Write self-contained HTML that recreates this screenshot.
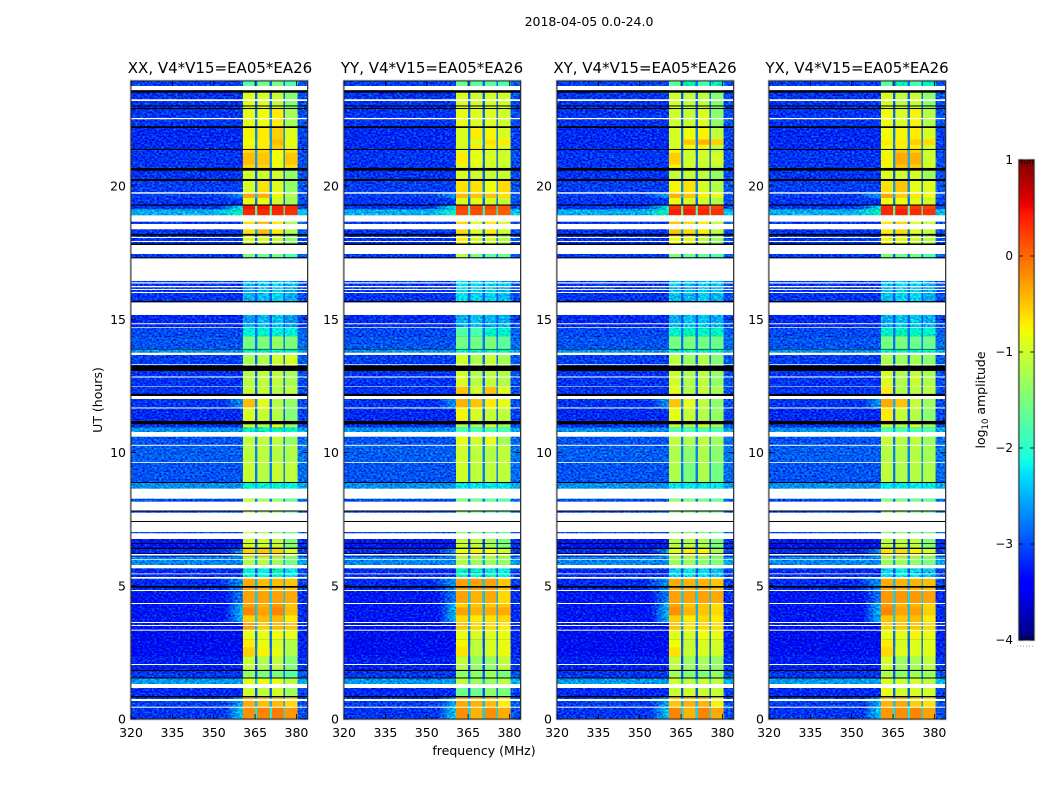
<!DOCTYPE html>
<html lang="en">
<head>
<meta charset="utf-8">
<title>2018-04-05 spectrogram</title>
<style>
html,body{margin:0;padding:0;background:#fff}
svg{display:block}
text{font-family:"DejaVu Sans","Liberation Sans",sans-serif;fill:#000}
</style>
</head>
<body>
<svg id="chart" xmlns="http://www.w3.org/2000/svg" width="1050" height="800" viewBox="0 0 1050 800">
  <defs>
    <filter id="speckle" x="0" y="0" width="1" height="1" color-interpolation-filters="sRGB">
      <feTurbulence type="fractalNoise" baseFrequency="0.42 0.58" numOctaves="1" seed="7" result="t"/>
      <feColorMatrix in="t" type="matrix" values="0 0 0 0 0  1 0 0 0 0  0 1 0 0 0  0 0 0 0 1" result="n"/>
      <feComposite in="SourceGraphic" in2="n" operator="arithmetic" k1="0" k2="1" k3="1.2" k4="-0.62"/>
    </filter>
    <linearGradient id="colorbar-gradient" x1="0" y1="1" x2="0" y2="0"></linearGradient>
  </defs>
  <text x="589" y="26" font-size="12.5" text-anchor="middle">2018-04-05 0.0-24.0</text>
  <g id="panels"></g>
  <text x="484" y="755" font-size="12.5" text-anchor="middle">frequency (MHz)</text>
  <text transform="translate(102 400) rotate(-90)" font-size="12.5" text-anchor="middle">UT (hours)</text>
  <g id="colorbar"></g>
  <text transform="translate(985 400) rotate(-90)" font-size="12.5" text-anchor="middle">log<tspan font-size="8.5" dy="3">10</tspan><tspan dy="-3"> amplitude</tspan></text>
</svg>
<script>
// ---- chart data (UT hours, MHz, log10 amplitude) ----
const panelTitles = ["XX, V4*V15=EA05*EA26", "YY, V4*V15=EA05*EA26", "XY, V4*V15=EA05*EA26", "YX, V4*V15=EA05*EA26"];
const xTickLabels = [320, 335, 350, 365, 380];
const yTickLabels = [0, 5, 10, 15, 20];
const colorTickLabels = [1, 0, -1, -2, -3, -4];
const spwLowMHz = [360.6, 365.8, 371.1, 375.8];
const spwHighMHz = [365.0, 370.3, 375.3, 380.4];
const rowEdgesUT = [0,.44,.82,1.17,1.55,1.85,2.35,3.0,3.36,3.65,4.35,4.85,5.3,5.67,6.1,6.45,6.77,8.28,8.9,9.65,10.3,10.65,10.97,11.2,11.7,12.23,12.52,13.3,13.78,13.92,14.4,14.74,15.7,17.33,17.88,18.25,18.95,19.18,19.34,19.6,19.8,20.3,20.7,21.43,22.28,22.97,23.81,24];
const backgroundLevels = [-3.1,-3.05,-3.15,-2.6,-3.1,-3.2,-3.3,-3.3,-3.25,-3.25,-3.25,-3.15,-3.15,-2.7,-3.15,-3.25,-3.0,-2.65,-2.95,-2.9,-2.95,-2.65,-3.1,-3.15,-3.1,-3.1,-3.1,-3.05,-2.65,-2.95,-3.0,-3.15,-3.1,-3.05,-3.1,-3.1,-2.5,-3.1,-3.1,-3.05,-3.05,-3.1,-3.1,-3.15,-3.1,-3.1,-3.05];
const wingRows = [0, 1, 9, 10, 11, 14, 24, 36, 37, 39];
const wingStartMHz = [354, 354, 354, 354, 352, 354, 354, 350, 352, 352];
const wingLevels = [-2.3, -2.5, -2.4, -2.7, -2.6, -2.6, -2.6, -1.9, -2.2, -2.6];
const xxLevels = [[-.2,-.15,-.1,-.25],[-.35,-.45,-.45,-.6],[-1,-1.1,-1,-1.3],[-.85,-.85,-.85,-1.1],[-1.35,-1.5,-1.5,-1.7],[-1.05,-1.2,-1.1,-1.45],[-.7,-.85,-.95,-1.15],[-.85,-.85,-.8,-.85],[-.3,-.55,-.45,-.5],[-.3,-.4,-.25,-.5],[-.3,-.3,-.3,-.35],[-.35,-.45,-.45,-.5],[-2.05,-2.1,-1.9,-2.2],[-1.2,-1.15,-1.3,-1.55],[-.55,-.5,-.55,-.95],[-1,-1,-1.05,-1.45],[-1,-1.2,-1.3,-1.6],[-2,-2,-2,-2.1],[-1.05,-1.15,-1.05,-1.1],[-1.1,-1.1,-1.15,-1.2],[-1.1,-1.1,-1.1,-1.35],[-1.9,-1.9,-1.9,-2],[-.95,-1.1,-.85,-1.25],[-.95,-1.05,-1.15,-1.45],[-.45,-.9,-1.15,-1.35],[-1.05,-1.05,-1.15,-1.1],[-1.15,-1.1,-1.1,-1.25],[-1.25,-1.2,-1,-.95],[-1.9,-1.9,-1.9,-1.9],[-1.55,-1.5,-1.35,-1.5],[-2.1,-2.05,-2.1,-2.1],[-2.6,-2.45,-2.4,-2.6],[-2.5,-2.4,-2.3,-2.5],[-1.5,-1.6,-1.5,-1.8],[-.95,-.95,-1.05,-1.4],[-.65,-.45,-.7,-1.2],[.35,.35,.35,.3],[.45,.45,.4,.35],[-.85,-.85,-1,-1.3],[-.35,-.4,-.75,-1.2],[-.95,-.65,-.9,-1.35],[-1,-1,-1,-1.35],[-.6,-.6,-.8,-.65],[-.75,-.7,-.55,-.9],[-.85,-.8,-.7,-1.25],[-.9,-.95,-1.05,-1.45],[-1.8,-1.55,-1.5,-1.8]];
const yyLevels = [[-.2,-.4,-.2,-.35],[-.35,-.4,-.45,-.7],[-1.6,-1.6,-1.4,-1.5],[-1.1,-1.3,-1.3,-1.1],[-1.4,-1.4,-1.3,-1.5],[-1.1,-1.35,-1.35,-1.1],[-.75,-1.1,-.95,-.85],[-.85,-.95,-.9,-.85],[-.5,-.6,-.6,-.7],[-.55,-.5,-.5,-.5],[-.3,-.4,-.35,-.6],[-.3,-.3,-.3,-.5],[-1.9,-2,-2,-2.1],[-1.2,-1.3,-1.3,-1.35],[-.8,-.75,-.8,-1],[-1.05,-1.1,-1.25,-1.5],[-1.4,-1.5,-1.6,-1.7],[-2.2,-2.2,-2.2,-2.2],[-1,-1.1,-1.1,-1.1],[-1,-1.1,-1.15,-1.1],[-.85,-1,-.85,-1.25],[-1.8,-1.8,-1.8,-1.8],[-1.2,-1.2,-.9,-1.3],[-.75,-.95,-1.05,-1.1],[-.4,-.5,-.7,-.85],[-.5,-.95,-.5,-.9],[-.95,-1.15,-1.1,-1.2],[-1,-1.2,-1.05,-1.25],[-1.9,-1.9,-1.9,-1.9],[-1.55,-1.55,-1.5,-1.7],[-1.75,-1.8,-2,-2],[-2.5,-2.4,-2.5,-2.5],[-2.25,-2.3,-2.3,-2.45],[-1.1,-1.5,-1.7,-1.6],[-.75,-.95,-.95,-1.2],[-.6,-.9,-.7,-1],[.15,.15,.1,.05],[.2,.2,.2,.1],[-.95,-.9,-1,-1.05],[-.45,-.5,-.5,-.65],[-.65,-.65,-.8,-.6],[-.95,-1,-1.05,-1.05],[-.95,-.9,-1,-1.05],[-.95,-.7,-.75,-.95],[-.85,-.9,-.9,-1],[-.95,-1,-.95,-1],[-1.6,-1.7,-1.7,-1.8]];
const xyLevels = [[-.15,-.4,-.15,-.35],[-.5,-.4,-.4,-.75],[-1.05,-1,-1.05,-1.05],[-.95,-1.1,-1,-1.1],[-1.3,-1.45,-1.5,-1.35],[-1.1,-1.3,-1.25,-1.35],[-.8,-1.05,-.95,-.95],[-.9,-.95,-.8,-.85],[-.5,-.65,-.6,-.65],[-.3,-.5,-.5,-.65],[-.3,-.3,-.3,-.35],[-.35,-.4,-.4,-.5],[-2.3,-2.2,-2.3,-2.4],[-1.3,-1.3,-1.4,-1.45],[-.9,-.7,-.75,-1.25],[-1.15,-1.15,-1.2,-1.5],[-1.3,-1.4,-1.5,-1.6],[-2.2,-2.2,-2.2,-2.2],[-1.2,-1.5,-1.2,-1.55],[-1.2,-1.4,-1.2,-1.4],[-1.1,-1.2,-1.1,-1.3],[-1.8,-1.8,-1.8,-1.8],[-1,-1.2,-.85,-1.25],[-.85,-1.05,-1.15,-1.35],[-.5,-.85,-1.1,-1.4],[-.85,-1.15,-1.05,-1.2],[-1,-1.2,-1.1,-1.35],[-1.1,-1.3,-1.15,-1.45],[-1.9,-1.9,-1.9,-1.9],[-1.55,-1.5,-1.55,-1.6],[-1.95,-1.9,-1.95,-1.95],[-2.5,-2.4,-2.4,-2.5],[-2.4,-2.45,-2.35,-2.45],[-1.5,-1.6,-1.6,-1.8],[-.8,-.8,-1.1,-1.3],[-.5,-.6,-.7,-1.1],[.4,.4,.35,.3],[.3,.3,.3,.2],[-.85,-.95,-1,-1.2],[-.4,-.5,-.75,-.85],[-.75,-.65,-.95,-1.15],[-1.05,-1.05,-1.1,-1.35],[-.75,-1,-1.05,-1.15],[-.95,-.8,-.75,-1.1],[-1,-1.05,-.9,-1.4],[-1,-1.1,-1.1,-1.45],[-1.7,-1.85,-1.8,-1.9]];
const yxLevels = [[-.25,-.2,-.15,-.3],[-.4,-.35,-.55,-.65],[-.85,-1,-.95,-1],[-.9,-1,-.95,-1.1],[-1.2,-1.4,-1.3,-1.3],[-1,-1.3,-1.25,-1.1],[-.7,-.95,-.9,-.9],[-.85,-.85,-.75,-.85],[-.55,-.5,-.5,-.6],[-.25,-.4,-.4,-.6],[-.25,-.25,-.25,-.3],[-.35,-.4,-.4,-.45],[-2.3,-2.15,-2.3,-2.4],[-1.3,-1.3,-1.4,-1.5],[-.65,-.6,-.75,-1],[-1.1,-1.1,-1.1,-1.45],[-1.4,-1.4,-1.5,-1.6],[-2.2,-2.2,-2.2,-2.2],[-1.1,-1.2,-1.15,-1.2],[-1.15,-1.2,-1.15,-1.25],[-1.05,-1.15,-1.1,-1.3],[-1.8,-1.8,-1.8,-1.8],[-1,-1.15,-.85,-1.25],[-.7,-1.05,-1.15,-1.4],[-.35,-.5,-1.05,-1.3],[-.7,-1.2,-1.1,-1.1],[-.95,-1.2,-1.05,-1.2],[-1.2,-1.3,-1.25,-1.4],[-1.9,-1.9,-1.9,-1.9],[-1.55,-1.5,-1.6,-1.6],[-1.95,-1.9,-1.95,-2],[-2.5,-2.4,-2.35,-2.5],[-2.4,-2.3,-2.3,-2.5],[-1.5,-1.6,-1.6,-1.8],[-.75,-.85,-1.05,-1.15],[-.7,-.6,-.9,-1.05],[.35,.4,.35,.3],[.35,.3,.25,.2],[-.8,-.8,-.9,-1],[-.35,-.55,-.7,-.8],[-.65,-.5,-.85,-.9],[-.9,-1,-.95,-1.3],[-.85,-.5,-.55,-1],[-.8,-.75,-.7,-.95],[-.8,-.95,-.75,-1.15],[-.95,-1.1,-1.05,-1.4],[-1.7,-1.85,-1.8,-1.9]];
const stripeStartUT = [2.35, 3.66, 3.9, 20.85, 21.6];
const stripeEndUT = [2.7, 3.9, 4.2, 21.3, 21.8];
const stripeXX = [[-.55,-.75,-.85,-1.2],[-.55,-.45,-.45,-.7],[-.15,-.3,-.15,-.45],[-.45,-.5,-.8,-.5],[-.8,-.7,-.45,-.85]];
const stripeYY = [[-.65,-1.1,-.95,-.85],[-.6,-.7,-.65,-.6],[-.3,-.4,-.35,-.35],[-.7,-.85,-.95,-1],[-.95,-.95,-.65,-.7]];
const stripeXY = [[-.65,-1.05,-.95,-1],[-.55,-.7,-.6,-.7],[-.2,-.4,-.5,-.6],[-.55,-1,-1,-.95],[-.95,-.5,-.4,-.55]];
const stripeYX = [[-.6,-.9,-.9,-.9],[-.5,-.5,-.45,-.7],[-.15,-.3,-.3,-.55],[-.75,-.35,-.4,-1],[-.7,-.7,-.55,-.6]];
const whiteStartUT = [.425,.677,1.166,2.031,3.322,3.499,3.612,4.326,4.815,5.278,5.444,5.669,5.993,6.151,6.772,7.035,7.449,7.836,8.288,9.638,10.278,10.62,11.681,12.038,12.497,12.847,13.317,13.694,14.71,14.849,15.199,16.026,16.139,16.24,16.383,16.478,17.493,17.945,18.095,18.422,18.709,19.762,22.561,23.249,23.652];
const whiteEndUT = [.463,.752,1.317,2.069,3.359,3.536,3.649,4.364,4.853,5.342,5.474,5.794,6.019,6.207,6.986,7.411,7.761,8.175,8.664,9.668,10.315,10.797,11.719,12.151,12.516,12.885,13.344,13.78,14.736,14.886,15.676,16.064,16.177,16.289,16.428,17.331,17.832,17.983,18.133,18.622,18.949,19.815,22.61,23.313,23.813];
const blackStartUT = [.816,1.524,1.806,4.94,6.207,6.395,6.584,7.411,7.806,8.878,11.087,12.151,13.092,13.9,15.676,17.331,17.832,18.182,19.314,20.239,20.628,21.406,22.233,22.945,23.042,23.561];
const blackEndUT = [.865,1.561,1.843,5.003,6.234,6.445,6.61,7.449,7.844,8.916,11.211,12.227,13.291,13.92,15.725,17.369,17.888,18.246,19.355,20.315,20.729,21.444,22.297,22.985,23.08,23.652];
const panelLevels = [xxLevels, yyLevels, xyLevels, yxLevels];
const panelStripes = [stripeXX, stripeYY, stripeXY, stripeYX];

// ---- layout ----
const panelLefts = [131, 344, 557, 769];
const titleCenters = [220, 432, 645, 857];
const panelWidth = 176.5, plotTop = 81, plotBottom = 719;
const xMin = 320, xMax = 384, yMin = 0, yMax = 23.94;
const bandTimeFactor = 0.9975; // band times above were read on a 24 h ruler; axis tops out at 23.94 h
const cbLeft = 1019, cbRight = 1034, cbTop = 160, cbBottom = 640, cMin = -4, cMax = 1;
const NS = 'http://www.w3.org/2000/svg';

// ---- scales ----
function xScale(left, mhz) { return left + (mhz - xMin) / (xMax - xMin) * panelWidth; }
function yScale(ut) { return plotBottom - (ut - yMin) / (yMax - yMin) * (plotBottom - plotTop); }
function bandY(ut) { return yScale(ut * bandTimeFactor); }
function cScale(v) { return cbBottom - (v - cMin) / (cMax - cMin) * (cbBottom - cbTop); }
function lerpStops(stops, t) {
  for (let i = 1; i < stops.length; i++) {
    if (t <= stops[i][0]) {
      const a = stops[i - 1], b = stops[i];
      return a[1] + (b[1] - a[1]) * (t - a[0]) / (b[0] - a[0]);
    }
  }
  return stops[stops.length - 1][1];
}
const jetR = [[0,0],[.35,0],[.66,1],[.89,1],[1,.5]];
const jetG = [[0,0],[.125,0],[.375,1],[.64,1],[.91,0],[1,0]];
const jetB = [[0,.5],[.11,1],[.34,1],[.65,0],[1,0]];
function jet(v) {
  const t = Math.max(0, Math.min(1, (v - cMin) / (cMax - cMin)));
  const c = s => Math.round(255 * lerpStops(s, t));
  return 'rgb(' + c(jetR) + ',' + c(jetG) + ',' + c(jetB) + ')';
}
function make(tag, attrs, parent) {
  const e = document.createElementNS(NS, tag);
  for (const k in attrs) e.setAttribute(k, attrs[k]);
  parent.appendChild(e);
  return e;
}
function minusLabel(v) { return v < 0 ? '\u2212' + Math.abs(v) : String(v); }

const defs = document.querySelector('defs');
const panelsRoot = document.getElementById('panels');

// wing gradients (shared by panels)
wingRows.forEach(function (row, w) {
  const g = make('linearGradient', { id: 'wing-' + w, x1: 0, y1: 0, x2: 1, y2: 0 }, defs);
  make('stop', { offset: 0, 'stop-color': jet(backgroundLevels[row]) }, g);
  make('stop', { offset: 1, 'stop-color': jet(wingLevels[w]) }, g);
});

panelLevels.forEach(function (levels, p) {
  const left = panelLefts[p];
  const right = left + panelWidth;
  const panel = make('g', {}, panelsRoot);
  
  

  const title = make('text', { x: titleCenters[p], y: 73, 'font-size': 15, 'text-anchor': 'middle' }, panel);
  
  
  title.textContent = panelTitles[p];

  // noisy off-band background
  const bgGroup = make('g', { filter: 'url(#speckle)' }, panel);
  
  
  const specGroup = make('g', {}, panel);
  
  

  backgroundLevels.forEach(function (bg, r) {
    const y0 = bandY(rowEdgesUT[r + 1]);
    const h = bandY(rowEdgesUT[r]) - y0;
    const bgRect = make('rect', { x: left, y: y0, width: panelWidth, height: h, fill: jet(bg) }, bgGroup);
    
    

    const w = wingRows.indexOf(r);
    if (w >= 0) {
      const wx = xScale(left, wingStartMHz[w]);
      const wingRect = make('rect', { x: wx, y: y0, width: xScale(left, spwLowMHz[0]) - wx, height: h, fill: 'url(#wing-' + w + ')' }, bgGroup);
      
      
    }

    const tail = make('rect', { x: xScale(left, spwHighMHz[3]), y: y0, width: right - xScale(left, spwHighMHz[3]), height: h, fill: jet(bg + .12) }, bgGroup);
    
    

    levels[r].forEach(function (v, s) {
      const host = v < -1.8 ? bgGroup : specGroup;
      const x0 = xScale(left, spwLowMHz[s]);
      const cell = make('rect', { x: x0, y: y0, width: xScale(left, spwHighMHz[s]) - x0, height: h, fill: jet(v) }, host);
      
      
      if (s < 3) {
        const gx = xScale(left, spwHighMHz[s]);
        const gap = make('rect', { x: gx, y: y0, width: xScale(left, spwLowMHz[s + 1]) - gx, height: h, fill: jet(Math.max(bg + .15, (v + levels[r][s + 1]) / 2 - 2.0)) }, specGroup);
        
        
      }
    });
  });

  // brighter and fainter stripes inside the spectral windows
  panelStripes[p].forEach(function (vals, i) {
    const y0 = bandY(stripeEndUT[i]);
    const h = bandY(stripeStartUT[i]) - y0;
    vals.forEach(function (v, s) {
      const x0 = xScale(left, spwLowMHz[s]);
      const cell = make('rect', { x: x0, y: y0, width: xScale(left, spwHighMHz[s]) - x0, height: h, fill: jet(v) }, specGroup);
      
      
    });
  });

  // flagged time ranges
  whiteStartUT.forEach(function (u, i) {
    const y0 = bandY(whiteEndUT[i]);
    const flag = make('rect', { x: left, y: y0, width: panelWidth, height: bandY(u) - y0, fill: '#fff' }, panel);
    
    
  });
  blackStartUT.forEach(function (u, i) {
    const y0 = bandY(blackEndUT[i]);
    const flag = make('rect', { x: left, y: y0, width: panelWidth, height: bandY(u) - y0, fill: '#000' }, panel);
    
    
  });

  // frame
  const frameHalo = make('rect', { x: left - .5, y: plotTop - .5, width: panelWidth + 1, height: plotBottom - plotTop + 1, fill: 'none', stroke: '#b8b8b8', 'stroke-width': 1.6 }, panel);
  
  
  const frame = make('rect', { x: left, y: plotTop, width: panelWidth, height: plotBottom - plotTop, fill: 'none', stroke: '#111', 'stroke-width': .8 }, panel);
  
  

  // x ticks
  xTickLabels.forEach(function (t) {
    const x = xScale(left, t);
    const tickB = make('line', { x1: x, x2: x, y1: plotBottom, y2: plotBottom - 5, stroke: '#000', 'stroke-width': .8 }, panel);
    
    
    const tickT = make('line', { x1: x, x2: x, y1: plotTop, y2: plotTop + 5, stroke: '#000', 'stroke-width': .8 }, panel);
    
    
    const lab = make('text', { x: x, y: 737, 'font-size': 12.5, 'text-anchor': 'middle' }, panel);
    
    
    lab.textContent = t;
  });

  // y ticks
  yTickLabels.forEach(function (t) {
    const y = yScale(t);
    const tickL = make('line', { x1: left, x2: left + 5, y1: y, y2: y, stroke: '#000', 'stroke-width': .8 }, panel);
    
    
    const tickR = make('line', { x1: right, x2: right - 5, y1: y, y2: y, stroke: '#000', 'stroke-width': .8 }, panel);
    
    
    const lab = make('text', { x: left - 5, y: y + 4.5, 'font-size': 12.5, 'text-anchor': 'end' }, panel);
    
    
    lab.textContent = t;
  });
});

// ---- colorbar ----
const cb = document.getElementById('colorbar');
const grad = document.getElementById('colorbar-gradient');
for (let v = cMin; v <= cMax + 1e-9; v += 0.05) {
  make('stop', { offset: ((v - cMin) / (cMax - cMin)).toFixed(4), 'stop-color': jet(v) }, grad);
}
const cbFill = make('rect', { x: cbLeft, y: cbTop, width: cbRight - cbLeft, height: cbBottom - cbTop, fill: 'url(#colorbar-gradient)' }, cb);


const cbHalo = make('rect', { x: cbLeft - .5, y: cbTop - .5, width: cbRight - cbLeft + 1, height: cbBottom - cbTop + 1, fill: 'none', stroke: '#b8b8b8', 'stroke-width': 1.4 }, cb);


const cbFrame = make('rect', { x: cbLeft, y: cbTop, width: cbRight - cbLeft, height: cbBottom - cbTop, fill: 'none', stroke: '#111', 'stroke-width': .8 }, cb);


colorTickLabels.forEach(function (t) {
  const y = cScale(t);
  const tickL = make('line', { x1: cbLeft, x2: cbLeft + 4, y1: y, y2: y, stroke: '#000', 'stroke-width': .8 }, cb);
  
  
  const tickR = make('line', { x1: cbRight, x2: cbRight - 4, y1: y, y2: y, stroke: '#000', 'stroke-width': .8 }, cb);
  
  
  const lab = make('text', { x: 1013, y: y + 4, 'font-size': 12, 'text-anchor': 'end' }, cb);
  
  
  lab.textContent = minusLabel(t);
});
for (let k = 0; k < 5; k++) {
  const mx = cbLeft + 3 + k * 2.6;
  const mt = make('line', { x1: mx, x2: mx, y1: cbTop, y2: cbTop + 4, stroke: '#000', 'stroke-width': .7 }, cb);
  
  
  const mb = make('line', { x1: mx, x2: mx, y1: cbBottom, y2: cbBottom - 4, stroke: '#000', 'stroke-width': .7 }, cb);
  
  
}
const dots = make('line', { x1: 1017, x2: 1035, y1: 646, y2: 646, stroke: '#999', 'stroke-width': 1, 'stroke-dasharray': '1 2' }, cb);


</script>
</body>
</html>
